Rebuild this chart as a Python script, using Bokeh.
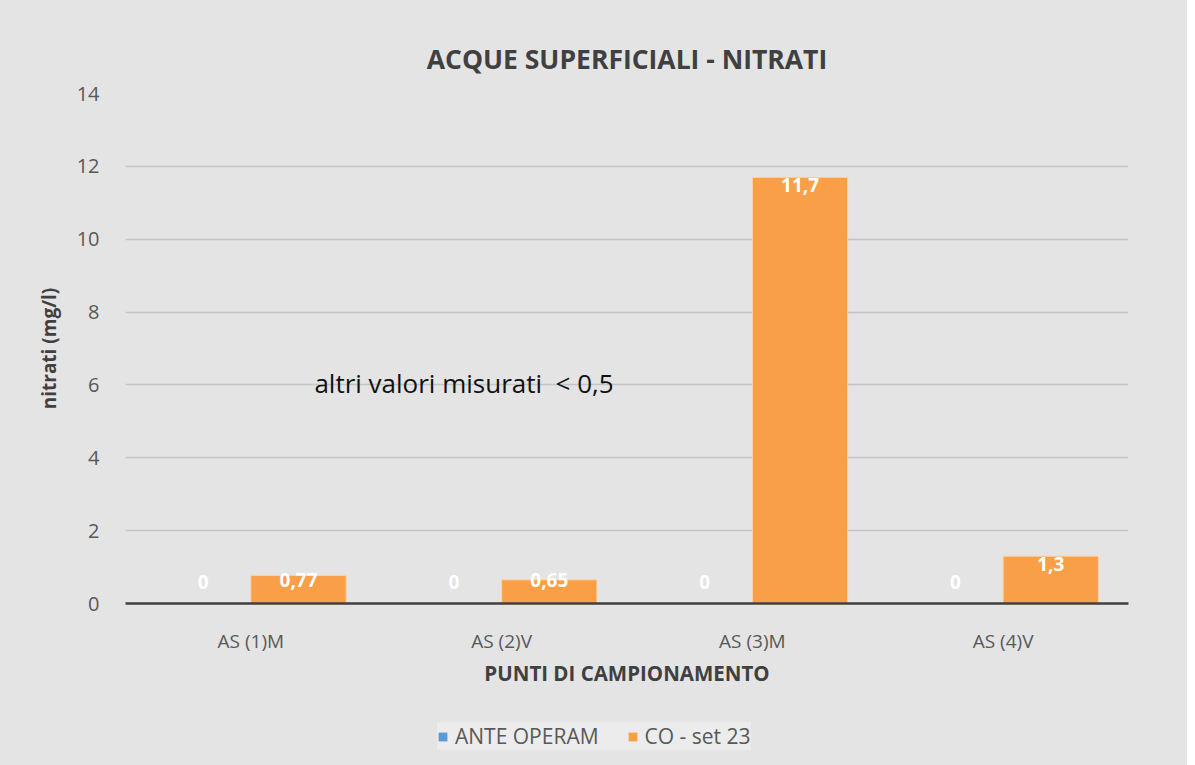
from bokeh.plotting import figure
from bokeh.layouts import column
from bokeh.models import ColumnDataSource, FixedTicker, Legend, LegendItem, Label, Range1d
from bokeh.core.properties import value
from bokeh.embed import file_html
from bokeh.resources import INLINE
import numpy as np

categories = ["AS (1)M", "AS (2)V", "AS (3)M", "AS (4)V"]
ante_operam = [0, 0, 0, 0]
co_set23 = [0.77, 0.65, 11.7, 1.3]
ante_labels = ["0", "0", "0", "0"]
co_labels = ["0,77", "0,65", "11,7", "1,3"]
series_names = ["ANTE OPERAM", "CO - set 23"]
y_ticks = [0, 2, 4, 6, 8, 10, 12, 14]

FONT = "Open Sans"
BG = "#e4e4e4"
BLUE = "#5b9bd5"
ORANGE = "#f99f48"

x = np.arange(len(categories)) + 0.5
bw = 0.38
dx = 0.19

src_a = ColumnDataSource(dict(x=x - dx, top=ante_operam, lab=ante_labels,
                              ly=np.maximum(np.array(ante_operam) - 0.22, 0.6)))
src_c = ColumnDataSource(dict(x=x + dx, top=co_set23, lab=co_labels,
                              ly=np.maximum(np.array(co_set23) - 0.22, 0.64)))

p = figure(width=1187, height=700, output_backend="svg", toolbar_location=None,
           x_range=Range1d(0, 4), y_range=Range1d(0, 14),
           title="ACQUE SUPERFICIALI - NITRATI",
           min_border_left=125, min_border_right=59, min_border_top=93, min_border_bottom=97)

p.background_fill_color = BG
p.border_fill_color = BG
p.outline_line_color = None

p.title.align = "center"
p.title.text_font = FONT
p.title.text_font_size = "26.5px"
p.title.text_font_style = "bold"
p.title.text_color = "#404040"
p.title.offset = 0
p.title.standoff = 33

ra = p.vbar(x="x", top="top", bottom=0, width=bw, source=src_a, fill_color=BLUE, line_color=None)
rc = p.vbar(x="x", top="top", bottom=0, width=bw, source=src_c, fill_color=ORANGE,
            line_color="#fcd3a8", line_width=1)

for s in (src_a, src_c):
    p.text(x="x", y="ly", text="lab", source=s, text_align="center", text_baseline="middle",
           text_color="white", text_font=value(FONT), text_font_size="19px",
           text_font_style="bold")

p.add_layout(Label(x=1.35, y=6.05, text="altri valori misurati\u00a0 < 0,5", text_align="center",
                   text_baseline="middle", text_font=FONT, text_font_size="26px",
                   text_color="#111111"))

# axes
p.yaxis.ticker = FixedTicker(ticks=y_ticks)
p.yaxis.axis_line_color = None
p.yaxis.major_tick_line_color = None
p.yaxis.minor_tick_line_color = None
p.yaxis.major_label_standoff = 20
p.yaxis.major_label_text_font = FONT
p.yaxis.major_label_text_font_size = "20px"
p.yaxis.major_label_text_color = "#595959"
p.yaxis.axis_label = "nitrati (mg/l)"
p.yaxis.axis_label_text_font = FONT
p.yaxis.axis_label_text_font_size = "19px"
p.yaxis.axis_label_text_font_style = "bold"
p.yaxis.axis_label_text_color = "#404040"
p.yaxis.axis_label_standoff = 12

p.xaxis.ticker = FixedTicker(ticks=list(x))
p.xaxis.major_label_overrides = {float(v): c for v, c in zip(x, categories)}
p.xaxis.axis_line_color = "#404040"
p.xaxis.axis_line_width = 2.5
p.xaxis.major_tick_line_color = None
p.xaxis.minor_tick_line_color = None
p.xaxis.major_label_standoff = 18
p.xaxis.major_label_text_font = FONT
p.xaxis.major_label_text_font_size = "19px"
p.xaxis.major_label_text_color = "#595959"
p.xaxis.axis_label = "PUNTI DI CAMPIONAMENTO"
p.xaxis.axis_label_text_font = FONT
p.xaxis.axis_label_text_font_size = "20.5px"
p.xaxis.axis_label_text_font_style = "bold"
p.xaxis.axis_label_text_color = "#404040"
p.xaxis.axis_label_standoff = 2

p.xgrid.grid_line_color = None
p.ygrid.ticker = FixedTicker(ticks=y_ticks)
p.ygrid.grid_line_color = "#c4c4c4"
p.ygrid.grid_line_width = 1.5

# legend strip
lg = figure(width=1187, height=65, output_backend="svg", toolbar_location=None,
            x_range=Range1d(0, 1), y_range=Range1d(0, 1),
            min_border_left=0, min_border_right=0, min_border_top=0, min_border_bottom=0)
lg.axis.visible = False
lg.grid.visible = False
lg.background_fill_alpha = 0
lg.border_fill_alpha = 0
lg.outline_line_color = None
la = lg.vbar(x=[-5], top=[0], width=0.1, fill_color=BLUE, line_color=None)
lc = lg.vbar(x=[-5], top=[0], width=0.1, fill_color=ORANGE, line_color=None)

legend = Legend(items=[LegendItem(label=series_names[0], renderers=[la]),
                       LegendItem(label=series_names[1], renderers=[lc])],
                orientation="horizontal", location=(312, 15),
                background_fill_color="#ececec", background_fill_alpha=1,
                border_line_color=None, label_text_font=FONT, label_text_font_size="21px",
                label_text_color="#595959", glyph_width=11, glyph_height=11,
                spacing=28, padding=9, margin=0, label_standoff=7, label_height=26)
lg.add_layout(legend, "center")

layout = column(p, lg, spacing=0, styles={"background-color": BG})
open("out.html", "w").write(file_html(layout, INLINE))
